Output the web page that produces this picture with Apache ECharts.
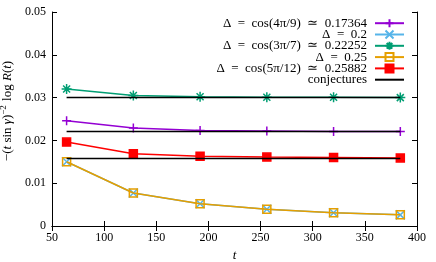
<!DOCTYPE html>
<html><head><meta charset="utf-8">
<script src="https://cdn.jsdelivr.net/npm/echarts@6/dist/echarts.min.js"></script>
<style>html,body{margin:0;padding:0;background:#fff}#c{width:436px;height:262px}</style>
</head><body><div id="c"></div>
<script>
const tValues = [64, 128, 192, 256, 320, 384];
const names = [
  'Δ\u2002=\u2002cos(4π/9)\u2002≃\u20020.17364',
  'Δ\u2002=\u20020.2',
  'Δ\u2002=\u2002cos(3π/7)\u2002≃\u20020.22252',
  'Δ\u2002=\u20020.25',
  'Δ\u2002=\u2002cos(5π/12)\u2002≃\u20020.25882'
];
const valsA = [0.0246, 0.0229, 0.0223, 0.0222, 0.0221, 0.0221];
const valsB = [0.0150, 0.0077, 0.0052, 0.0039, 0.0031, 0.0026];
const valsC = [0.0320, 0.0305, 0.0302, 0.0301, 0.0301, 0.0300];
const valsD = [0.0150, 0.0077, 0.0052, 0.0039, 0.0031, 0.0026];
const valsE = [0.0196, 0.0169, 0.0163, 0.0161, 0.0160, 0.0159];
const conjectures = [0.0300, 0.0221, 0.0158];
const conjT = [64, 384];
const xTicks = [50, 100, 150, 200, 250, 300, 350, 400];
const yTicks = [0, 0.01, 0.02, 0.03, 0.04, 0.05];

const colors = ['#9400d3', '#56b4e9', '#009e73', '#e69f00', '#ff0000'];
const plus = 'path://M0,5L10,5M5,0L5,10';
const cross = 'path://M0,0L10,10M10,0L0,10';
const star = 'path://M0,5L10,5M5,0L5,10M1.5,1.5L8.5,8.5M8.5,1.5L1.5,8.5';
const sq = 'rect';
const symbols = [plus, cross, star, sq, sq];
const sizes = [9, 9, 10, 8, 8];
const fills = ['none', 'none', 'none', 'none', '#ff0000'];
const allVals = [valsA, valsB, valsC, valsD, valsE];

const serif = 'Liberation Serif';
const series = allVals.map((v, i) => ({
  name: names[i], type: 'line', xAxisIndex: 0, yAxisIndex: 0,
  data: tValues.map((t, j) => [t, v[j]]),
  symbol: symbols[i], symbolSize: sizes[i], showAllSymbol: true,
  lineStyle: {color: colors[i], width: 1.5},
  itemStyle: {color: fills[i], borderColor: colors[i], borderWidth: 1.5},
  emphasis: {disabled: true}, animation: false, z: 2 + i
}));
conjectures.forEach(c => series.push({
  name: 'conjectures', type: 'line', data: conjT.map(t => [t, c]),
  symbol: 'none', lineStyle: {color: '#000', width: 1.5},
  itemStyle: {color: '#000'}, animation: false, z: 10
}));
const legendNames = names.concat(['conjectures']);
const legends = legendNames.map((n, i) => ({
  data: [n === 'conjectures' ? {name: n, itemStyle: {color: 'rgba(0,0,0,0)', borderColor: 'rgba(0,0,0,0)', borderWidth: 0}} : n],
  right: 31, top: 16.7 + i * 11.3, orient: 'vertical', align: 'right',
  itemWidth: 29, itemHeight: 10, padding: 0, itemGap: 0,
  textStyle: {fontFamily: serif, fontSize: 13, color: '#000', padding: [0, 3, 0, 0]},
  selectedMode: false
}));
const axisBase = {
  axisLine: {lineStyle: {color: '#000', width: 1}},
  axisTick: {inside: true, length: 5, lineStyle: {color: '#000'}},
  splitLine: {show: false}
};
const chart = echarts.init(document.getElementById('c'), null, {renderer: 'canvas'});
chart.setOption({
  animation: false,
  grid: {left: 52, right: 19, top: 12, bottom: 36, containLabel: false, outerBoundsMode: 'none'},
  legend: legends,
  xAxis: [
    Object.assign({type: 'value', min: xTicks[0], max: xTicks[xTicks.length - 1], interval: 50, position: 'bottom',
      name: 't', nameLocation: 'middle', nameGap: 22,
      nameTextStyle: {fontFamily: serif, fontStyle: 'italic', fontSize: 13, color: '#000'},
      axisLabel: {fontFamily: serif, fontSize: 12, color: '#000', margin: 6}}, axisBase),
    Object.assign({type: 'value', min: xTicks[0], max: xTicks[xTicks.length - 1], interval: 50, position: 'top',
      axisLabel: {show: false}}, axisBase)
  ],
  yAxis: [
    Object.assign({type: 'value', min: yTicks[0], max: yTicks[yTicks.length - 1], interval: 0.01, position: 'left',
      name: '{n|−(}{i|t}{n| sin }{i|γ}{n|)}{s|−2}{n| log }{i|R}{n|(}{i|t}{n|)}', nameLocation: 'middle', nameGap: 36,
      nameTextStyle: {fontFamily: serif, fontSize: 13, color: '#000', padding: [0, 0, 0, 16], rich: {
        n: {fontFamily: serif, fontSize: 13, color: '#000'},
        i: {fontFamily: serif, fontSize: 13, fontStyle: 'italic', color: '#000'},
        s: {fontFamily: serif, fontSize: 9, color: '#000', padding: [0, 1, 8, 0]}
      }},
      axisLabel: {fontFamily: serif, fontSize: 12, color: '#000', margin: 6,
        formatter: v => v === 0 ? '0' : v.toFixed(2)}}, axisBase),
    Object.assign({type: 'value', min: yTicks[0], max: yTicks[yTicks.length - 1], interval: 0.01, position: 'right',
      axisLabel: {show: false}}, axisBase)
  ],
  series: series
});
</script></body></html>
